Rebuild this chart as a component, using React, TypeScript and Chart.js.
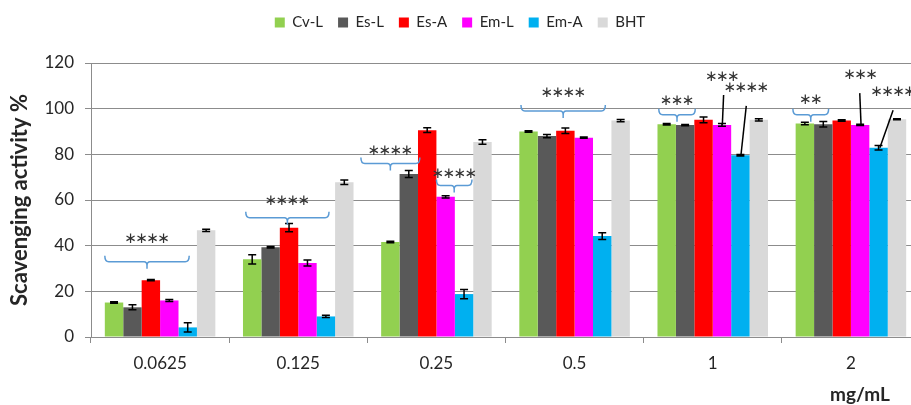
import { useEffect, useRef } from "react";
import { Chart, registerables } from "chart.js";

Chart.register(...registerables);

// ---------- data ----------
const categories = ["0.0625", "0.125", "0.25", "0.5", "1", "2"];
const seriesNames = ["Cv-L", "Es-L", "Es-A", "Em-L", "Em-A", "BHT"];
const seriesColors = ["#92D050", "#595959", "#FF0000", "#FF00FF", "#00B0F0", "#D9D9D9"];

const cvL = [15.1, 34.0, 41.6, 90.0, 93.2, 93.5];
const esL = [13.0, 39.3, 71.4, 88.0, 92.8, 93.2];
const esA = [24.9, 47.9, 90.6, 90.3, 95.1, 94.8];
const emL = [16.0, 32.4, 61.4, 87.3, 92.9, 92.9];
const emA = [4.2, 9.0, 18.8, 44.2, 79.6, 82.9];
const bht = [46.7, 67.8, 85.4, 94.8, 95.1, 95.4];

const cvLErr = [0.3, 2.0, 0.3, 0.3, 0.3, 0.5];
const esLErr = [1.1, 0.3, 1.5, 0.7, 0.3, 1.2];
const esAErr = [0.3, 1.8, 1.0, 1.2, 1.3, 0.3];
const emLErr = [0.4, 1.3, 0.5, 0.3, 0.6, 0.3];
const emAErr = [2.0, 0.5, 2.0, 1.5, 0.3, 1.0];
const bhtErr = [0.5, 1.0, 1.0, 0.5, 0.5, 0.2];

const seriesValues = [cvL, esL, esA, emL, emA, bht];
const seriesErrors = [cvLErr, esLErr, esAErr, emLErr, emAErr, bhtErr];

const yMin = 0;
const yMax = 120;
const yStep = 20;

const yTitle = "Scavenging activity %";
const xTitle = "mg/mL";

// significance brackets: category, span in bar slots, bracket level, stars and their level
const bracketCats = [0, 1, 2, 2, 3, 4, 5];
const bracketFrom = [0, 0.15, -1.1, 3.0, 0.09, 0.07, -0.15];
const bracketTo = [4.58, 4.67, 2.1, 4.93, 4.67, 2.05, 1.79];
const bracketLevel = [33, 52.2, 76, 66.3, 99, 97.3, 97.3];
const bracketStars = ["****", "****", "****", "****", "****", "***", "**"];
const bracketStarsLevel = [42.8, 59.5, 81.6, 71.4, 106.6, 103.4, 103.9];

// leader-line labels: category, series pointed to, label slot, label level, line top slot/level, line bottom slot
const leaderCats = [4, 4, 5, 5];
const leaderSeries = [3, 4, 3, 4];
const leaderStars = ["***", "****", "***", "****"];
const leaderTextSlot = [3.52, 4.82, 3.52, 5.29];
const leaderTextLevel = [113.9, 109.2, 114.6, 107.3];
const leaderTopSlot = [3.59, 4.82, 3.48, 5.29];
const leaderTopLevel = [106, 101.2, 106.8, 99.3];
const leaderBottomSlot = [3.52, 4.53, 3.55, 4.57];

const FONT = "Lato, 'Open Sans', sans-serif";
const TEXT_COLOR = "#262626";
const GRID_COLOR = "#8C8C8C";

export default function App() {
  const ref = useRef<HTMLCanvasElement | null>(null);

  useEffect(() => {
    const canvas = ref.current;
    if (!canvas) return;

    const slotPx = (chart: any, cat: number, u: number) => {
      const b = chart.getDatasetMeta(0).data[cat] as any;
      const left = b.x - b.width / 2;
      return left + u * b.width;
    };

    const drawStars = (ctx: CanvasRenderingContext2D, text: string, cx: number, cy: number) => {
      const pitch = 11;
      const n = text.length;
      ctx.save();
      ctx.font = "15px 'DejaVu Sans'";
      ctx.fillStyle = "#333333";
      ctx.textAlign = "center";
      ctx.textBaseline = "middle";
      for (let i = 0; i < n; i++) {
        ctx.fillText("\u2217", cx - ((n - 1) * pitch) / 2 + i * pitch, cy);
      }
      ctx.restore();
    };

    const legendSpacer = {
      id: "legendSpacer",
      beforeInit(chart: any) {
        const legend = chart.legend;
        if (!legend) return;
        const orig = legend.fit;
        legend.fit = function () {
          orig.call(this);
          this.height += 23;
        };
      },
    };

    const annotations = {
      id: "annotations",
      afterDatasetsDraw(chart: any) {
        const ctx: CanvasRenderingContext2D = chart.ctx;
        const y = chart.scales.y;
        // error bars
        ctx.save();
        ctx.strokeStyle = "#000000";
        ctx.lineWidth = 1.5;
        seriesValues.forEach((vals, si) => {
          const meta = chart.getDatasetMeta(si);
          vals.forEach((v, ci) => {
            const bar = meta.data[ci] as any;
            const e = seriesErrors[si][ci];
            const yt = y.getPixelForValue(v + e);
            const yb = y.getPixelForValue(v - e);
            const x = bar.x;
            ctx.beginPath();
            ctx.moveTo(x, yt);
            ctx.lineTo(x, yb);
            ctx.moveTo(x - 4, yt);
            ctx.lineTo(x + 4, yt);
            ctx.moveTo(x - 4, yb);
            ctx.lineTo(x + 4, yb);
            ctx.stroke();
          });
        });
        ctx.restore();

        // brackets
        ctx.save();
        ctx.strokeStyle = "#5B9BD5";
        ctx.lineWidth = 1.5;
        bracketCats.forEach((cat, i) => {
          const x1 = slotPx(chart, cat, bracketFrom[i]);
          const x2 = slotPx(chart, cat, bracketTo[i]);
          const xm = (x1 + x2) / 2;
          const yl = y.getPixelForValue(bracketLevel[i]);
          ctx.beginPath();
          ctx.moveTo(x1, yl - 6);
          ctx.quadraticCurveTo(x1, yl, x1 + 4, yl);
          ctx.lineTo(xm - 3, yl);
          ctx.quadraticCurveTo(xm, yl, xm, yl + 4);
          ctx.lineTo(xm, yl + 7);
          ctx.moveTo(xm, yl + 4);
          ctx.quadraticCurveTo(xm, yl, xm + 3, yl);
          ctx.lineTo(x2 - 4, yl);
          ctx.quadraticCurveTo(x2, yl, x2, yl - 6);
          ctx.stroke();
          drawStars(ctx, bracketStars[i], xm, y.getPixelForValue(bracketStarsLevel[i]));
        });
        ctx.restore();

        // leader lines
        ctx.save();
        ctx.strokeStyle = "#000000";
        ctx.lineWidth = 1.5;
        leaderCats.forEach((cat, i) => {
          const xt = slotPx(chart, cat, leaderTopSlot[i]);
          const yt = y.getPixelForValue(leaderTopLevel[i]);
          const xb = slotPx(chart, cat, leaderBottomSlot[i]);
          const yb = y.getPixelForValue(seriesValues[leaderSeries[i]][cat]);
          ctx.beginPath();
          ctx.moveTo(xt, yt);
          ctx.lineTo(xb, yb);
          ctx.stroke();
          drawStars(
            ctx,
            leaderStars[i],
            slotPx(chart, cat, leaderTextSlot[i]),
            y.getPixelForValue(leaderTextLevel[i])
          );
        });
        ctx.restore();

        // x axis unit label
        ctx.save();
        ctx.font = `bold 19px ${FONT}`;
        ctx.fillStyle = TEXT_COLOR;
        ctx.textAlign = "center";
        ctx.textBaseline = "alphabetic";
        ctx.fillText(xTitle, chart.chartArea.right - 60, chart.chartArea.bottom + 64);
        ctx.restore();
      },
    };

    const chart = new Chart(canvas, {
      type: "bar",
      data: {
        labels: categories,
        datasets: seriesNames.map((name, i) => ({
          label: name,
          data: seriesValues[i],
          backgroundColor: seriesColors[i],
          borderWidth: 0,
          categoryPercentage: 0.8,
          barPercentage: 1.0,
        })),
      },
      options: {
        animation: false,
        responsive: false,
        maintainAspectRatio: false,
        layout: { padding: { left: 0, right: 0, top: 0, bottom: 0 } },
        plugins: {
          legend: {
            display: true,
            position: "top",
            labels: {
              boxWidth: 10,
              boxHeight: 10,
              padding: 15,
              color: TEXT_COLOR,
              font: { family: FONT, size: 15 },
            },
          },
          tooltip: { enabled: false },
        },
        scales: {
          x: {
            grid: {
              display: true,
              drawOnChartArea: false,
              drawTicks: true,
              tickLength: 6,
              color: GRID_COLOR,
              offset: true,
            },
            border: { color: GRID_COLOR, width: 1 },
            ticks: {
              color: TEXT_COLOR,
              font: { family: FONT, size: 17 },
              padding: 10,
              maxRotation: 0,
            },
            afterFit: (s: any) => {
              s.height = 68;
            },
          },
          y: {
            min: yMin,
            max: yMax,
            ticks: {
              stepSize: yStep,
              color: TEXT_COLOR,
              font: { family: FONT, size: 17 },
              padding: 11,
            },
            grid: { color: GRID_COLOR, tickLength: 6, lineWidth: 1 },
            border: { color: GRID_COLOR, width: 1 },
            title: {
              display: true,
              text: yTitle,
              color: TEXT_COLOR,
              font: { family: FONT, size: 22, weight: "bold" },
              padding: { top: 7, bottom: 0 },
            },
            afterFit: (s: any) => {
              s.width = 91;
            },
          },
        },
      },
      plugins: [legendSpacer, annotations],
    });

    return () => chart.destroy();
  }, []);

  return (
    <div
      style={{
        position: "fixed",
        left: 0,
        top: 0,
        width: 911,
        height: 405,
        overflow: "hidden",
        background: "#ffffff",
      }}
    >
      <canvas ref={ref} width={920} height={405} style={{ width: 920, height: 405, display: "block" }} />
    </div>
  );
}
